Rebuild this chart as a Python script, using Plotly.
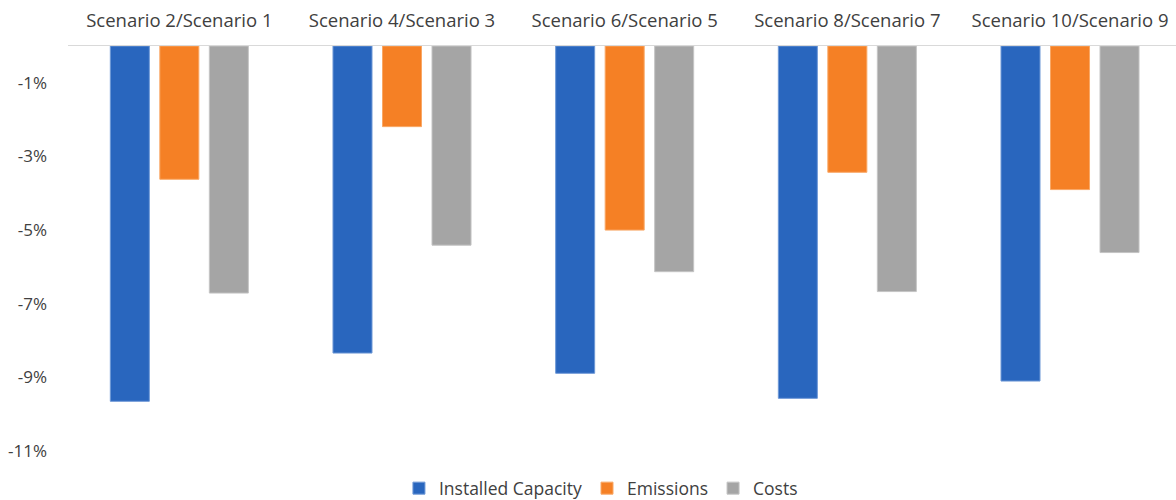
import plotly.graph_objects as go

categories = ["Scenario 2/Scenario 1", "Scenario 4/Scenario 3", "Scenario 6/Scenario 5",
              "Scenario 8/Scenario 7", "Scenario 10/Scenario 9"]
installed_capacity = [-9.65, -8.34, -8.89, -9.57, -9.10]
emissions = [-3.62, -2.19, -5.00, -3.43, -3.90]
costs = [-6.71, -5.41, -6.13, -6.67, -5.61]

y_ticks = [-11, -9, -7, -5, -3, -1]
y_tick_labels = ["-11%", "-9%", "-7%", "-5%", "-3%", "-1%"]

series = [
    ("Installed Capacity", installed_capacity, "#2966BE", "#6E98D6"),
    ("Emissions", emissions, "#F58025", "#F9A866"),
    ("Costs", costs, "#A5A5A5", "#C4C4C4"),
]

text_color = "#404040"
font_family = "Open Sans, Liberation Sans, Arial, sans-serif"

fig = go.Figure()
for name, vals, color, edge in series:
    fig.add_trace(go.Bar(
        name=name, x=categories, y=vals,
        marker=dict(color=color, line=dict(color=edge, width=1)),
    ))

fig.update_layout(
    width=1176, height=500,
    margin=dict(l=68, r=0, t=46, b=49, autoexpand=False),
    paper_bgcolor="white", plot_bgcolor="white",
    barmode="group", bargap=0.333, bargroupgap=0.212,
    font=dict(family=font_family, size=17, color=text_color),
    showlegend=True,
    legend=dict(orientation="h", x=0.481, xanchor="center", y=-0.092, yanchor="middle",
                font=dict(size=17.5, color=text_color), itemwidth=30,
                traceorder="normal"),
)

fig.update_xaxes(
    side="top", range=[-0.5, 4.476],
    showline=True, linecolor="#D9D9D9", linewidth=1,
    showgrid=False, zeroline=False, ticks="",
    tickfont=dict(size=18.5, color=text_color),
    ticklabelstandoff=11,
)
fig.update_yaxes(
    range=[-11, 0], tickvals=y_ticks, ticktext=y_tick_labels,
    showgrid=False, zeroline=False, showline=False, ticks="",
    tickfont=dict(size=17, color=text_color),
    ticklabelstandoff=20,
)

fig.write_html("out.html")
